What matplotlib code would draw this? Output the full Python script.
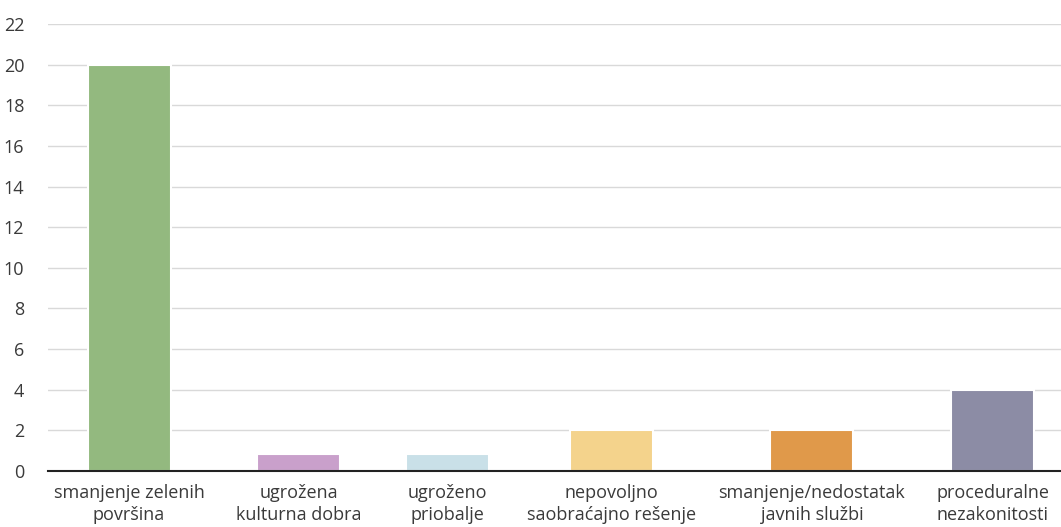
import matplotlib.pyplot as plt

categories = [
    "smanjenje zelenih\npovršina",
    "ugrožena\nkulturna dobra",
    "ugroženo\npriobalje",
    "nepovoljno\nsaobraćajno rešenje",
    "smanjenje/nedostatak\njavnih službi",
    "proceduralne\nnezakonitosti",
]
values = [20, 0.85, 0.85, 2, 2, 4]

# layout: uneven slot centres as in the reference
slots = [81, 250.5, 399.5, 563.5, 764, 945]
colors = ["#93b97f", "#c9a0cb", "#c9e0e8", "#f4d38c", "#e0994a", "#8c8ca5"]

plt.rcParams["font.family"] = ["Open Sans", "DejaVu Sans"]

fig = plt.figure(figsize=(10.61, 5.27), dpi=100)
ax = fig.add_axes([48 / 1061, 1 - 471 / 527, 1013 / 1061, 447 / 527])

ax.bar(
    slots,
    values,
    width=83,
    color=colors,
    edgecolor="white",
    linewidth=1.5,
    zorder=3
)

ax.set_xlim(0, 1013)
ax.set_ylim(0, 22)
ax.set_yticks(range(0, 23, 2))
ax.set_xticks(slots)
ax.set_xticklabels(categories, fontsize=13, color="#3a3a3a", linespacing=1.3)
ax.tick_params(axis="y", labelsize=13, labelcolor="#3a3a3a", length=0, pad=17)
ax.tick_params(axis="x", length=0, pad=9)

ax.grid(axis="y", color="#d9d9d9", linewidth=1, zorder=0)
for side in ["top", "right", "left"]:
    ax.spines[side].set_visible(False)
ax.spines["bottom"].set_color("#222222")
ax.spines["bottom"].set_linewidth(1.5)
ax.spines["bottom"].set_zorder(4)

fig.savefig("out.png", dpi=100)
